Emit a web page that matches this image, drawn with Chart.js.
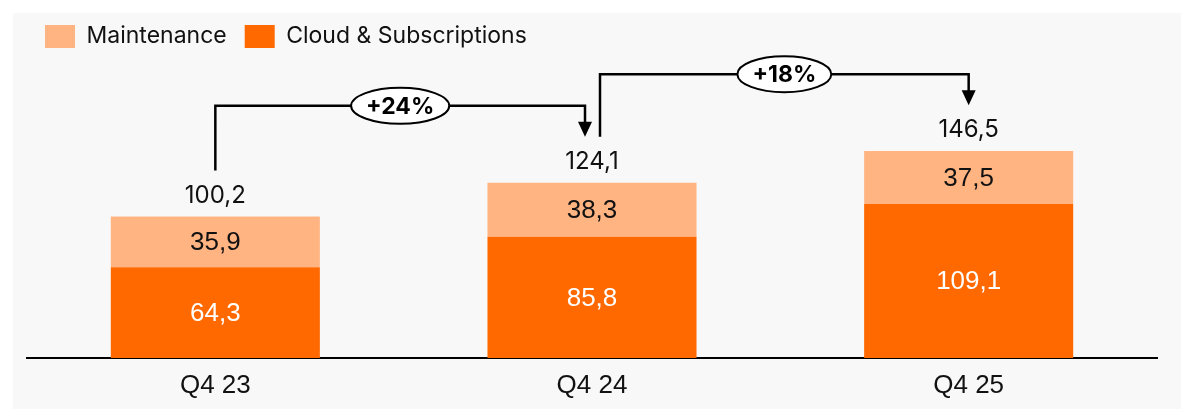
<!DOCTYPE html>
<html>
<head>
<meta charset="utf-8">
<script src="https://cdn.jsdelivr.net/npm/chart.js@4"></script>
<style>
  html, body { margin: 0; padding: 0; background: #fff; }
  #panel { position: absolute; left: 13px; top: 13px; width: 1168px; height: 396px; background: #f8f8f8; }
  #wrap { position: absolute; left: 0; top: 0; width: 1181px; height: 409px; }
</style>
</head>
<body>
<div id="panel"></div>
<div id="wrap"><canvas id="chart"></canvas></div>
<script>
// categories
const quarters = ['Q4 23', 'Q4 24', 'Q4 25']
// revenue split (bottom / top of stack)
const cloudSubs = [64.3, 85.8, 109.1]
const maintenance = [35.9, 38.3, 37.5]
// totals as printed on the chart
const totals = [100.2, 124.1, 146.5]
// growth labels between quarters
const growth = ['+24%', '+18%']

const FONT = 'Inter, "Open Sans", sans-serif'
const FONT2 = '"Liberation Sans", Arial, sans-serif'
const fmt = (v) => v.toFixed(1).replace('.', ',')

// value labels, totals and growth brackets
const labelPlugin = {
    id: 'labels',
    afterDatasetsDraw(chart) {
        const ctx = chart.ctx
        const y = chart.scales.y
        ctx.save()
        ctx.textAlign = 'center'
        ctx.textBaseline = 'middle'

        // segment values
        ctx.font = '26px ' + FONT2
        chart.data.datasets.forEach((ds, di) => {
            chart.getDatasetMeta(di).data.forEach((bar, i) => {
                ctx.fillStyle = di === 0 ? '#ffffff' : '#111111'
                ctx.fillText(fmt(ds.data[i]), bar.x, (bar.y + bar.base) / 2 + 1)
            })
        })

        // totals above the bars
        const bars = chart.getDatasetMeta(0).data
        ctx.fillStyle = '#111111'
        ctx.font = '24px ' + FONT
        bars.forEach((bar, i) => {
            ctx.fillText(fmt(totals[i]), bar.x, y.getPixelForValue(totals[i]) - 21)
        })

        // growth brackets
        ctx.strokeStyle = '#000'
        ctx.fillStyle = '#000'
        ctx.lineWidth = 2.5
        for (let i = 0; i < growth.length; i++) {
            let xs = bars[i].x + (i > 0 ? 8 : 0)
            let xe = bars[i + 1].x - (i + 1 < bars.length - 1 ? 7 : 0)
            let ys = y.getPixelForValue(totals[i]) - 46
            let tip = y.getPixelForValue(totals[i + 1]) - 46
            let yl = tip - 31

            ctx.beginPath()
            ctx.moveTo(xs, ys)
            ctx.lineTo(xs, yl)
            ctx.lineTo(xe, yl)
            ctx.lineTo(xe, tip - 14)
            ctx.stroke()

            ctx.beginPath()
            ctx.moveTo(xe - 7, tip - 15)
            ctx.lineTo(xe + 7, tip - 15)
            ctx.lineTo(xe, tip)
            ctx.closePath()
            ctx.fill()

            // ellipse label
            let cx = (xs + xe) / 2
            ctx.font = 'bold 23px ' + FONT
            let rx = ctx.measureText(growth[i]).width / 2 + 15
            ctx.beginPath()
            ctx.ellipse(cx, yl, rx, 18, 0, 0, Math.PI * 2)
            ctx.fillStyle = '#ffffff'
            ctx.fill()
            ctx.lineWidth = 2
            ctx.stroke()
            ctx.lineWidth = 2.5
            ctx.fillStyle = '#000'
            ctx.fillText(growth[i], cx, yl + 1)
        }
        ctx.restore()
    }
}

new Chart(document.getElementById('chart'), {
    type: 'bar',
    data: {
        labels: quarters,
        datasets: [
            {
                label: 'Cloud & Subscriptions',
                data: cloudSubs,
                backgroundColor: '#ff6900'
            },
            {
                label: 'Maintenance',
                data: maintenance,
                backgroundColor: '#ffb482'
            }
        ]
    },
    options: {
        responsive: true,
        maintainAspectRatio: false,
        animation: false,
        barPercentage: 0.555,
        categoryPercentage: 1,
        layout: {
            padding: {left: 27, right: 24, top: 7, bottom: 0}
        },
        scales: {
            x: {
                stacked: true,
                grid: {display: false, drawTicks: false},
                border: {display: true, color: '#000', width: 2},
                ticks: {
                    color: '#111',
                    padding: 12,
                    font: {family: FONT2, size: 26}
                },
                afterFit: (scale) => { scale.height = 51 }
            },
            y: {
                stacked: true,
                display: false,
                min: 0,
                max: 212.5
            }
        },
        plugins: {
            legend: {
                position: 'top',
                align: 'start',
                reverse: true,
                labels: {
                    boxWidth: 30,
                    boxHeight: 23,
                    padding: 18,
                    color: '#111',
                    font: {family: FONT, size: 23}
                }
            },
            tooltip: {enabled: false}
        }
    },
    plugins: [labelPlugin]
})
</script>
</body>
</html>
